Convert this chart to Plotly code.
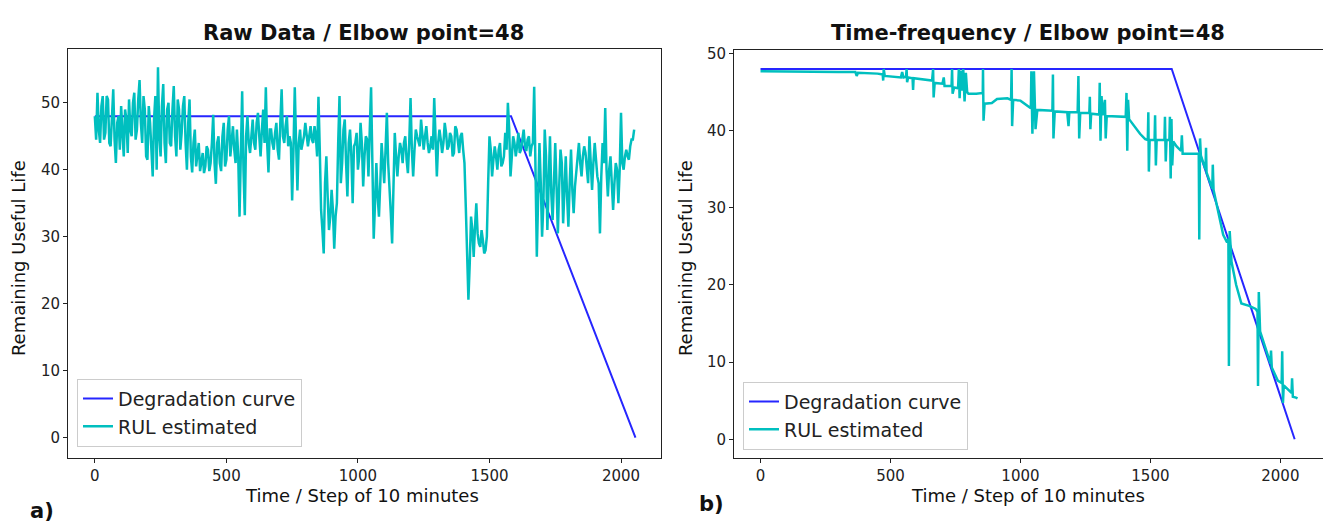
import plotly.graph_objects as go

# ---- data ----
# degradation curve (same for both panels): flat at the elbow value, then linear to zero
deg_t = [0, 1582, 2055]
deg_rul = [48, 48, 0]

# panel a) raw data estimate: values at steps 0,10,...,2050
raw_t_even = list(range(0, 2051, 10))
raw_rul_even = [
    48, 51.5, 44, 51, 45.5, 50.5,
    43.5, 52, 41, 48,
    49.5, 42, 47.5,
    50.5, 45, 51.5, 46, 53.4,
    44, 49, 41.5, 47,
    39, 51, 55.3, 42,
    52.8, 41, 50, 43.5, 52.5, 42, 49, 45.5, 51,
    40, 50.5, 39.6, 46,
    42, 39.8, 42.5, 40.5, 43, 41,
    48.2, 37.9, 45,
    39.8, 47, 41.5, 48, 44.5,
    43, 46,
    33, 51.7, 33.2, 48,
    42.5, 47.5, 43, 48.5, 42, 49,
    52.3, 39.6, 46,
    43, 47, 41.5, 52,
    44, 48, 45,
    35.4, 52.3,
    36.9, 46,
    44, 47, 43.5, 46.5, 44, 45,
    50.9,
    34, 27.5,
    42, 31,
    37, 28.2,
    35, 51, 41,
    47.5, 36, 46, 35, 44,
    40, 47, 37.5, 45, 39,
    52.3,
    29.7, 41,
    33, 44, 38,
    48.5, 36, 29,
    45.5, 39, 44, 41, 45, 39.5,
    50.7, 39, 46,
    44, 47.5, 43, 46.5, 42.5, 45,
    50.7, 39,
    46, 42.5, 47, 43, 45.5, 42, 46.5, 44, 45, 43,
    34.5, 20.6,
    33, 27, 35, 29, 31, 27.5, 30,
    45, 39, 43.5, 40, 44, 41, 45.5,
    50, 39, 45,
    42, 45.5, 43, 46, 42.8, 45, 43.5,
    52.4,
    27, 44, 30, 46,
    31, 45, 32.5, 44, 30.5, 43,
    32, 42, 31.5, 43, 33.5, 40,
    44, 39, 43.5, 40,
    45, 37, 44, 39,
    30.5,
    44, 49.2,
    36, 42, 34, 41, 35,
    48.5,
    40, 43, 41.5, 44.5, 46,
]
# values at steps 5,15,...,2045
raw_t_odd = list(range(5, 2046, 10))
raw_rul_odd = [
    44.5, 46, 49.5, 44.5, 51, 44, 49, 44.5, 47, 43,
    45.5, 49, 42.5, 46, 50, 44.5, 50.5, 47, 51, 42,
    49.5, 43, 47.5, 40, 45, 49.5, 44, 49, 44, 49,
    45, 50.5, 43, 49.5, 44, 47, 42, 44, 40.5, 44,
    41.5, 39.5, 43.5, 39.8, 44, 41, 44, 41, 45, 40.5,
    46, 42, 46.5, 41, 42, 45, 40, 45, 44, 45,
    44, 47, 45, 46, 44, 44, 46, 44, 45.5, 43,
    47, 45, 46.5, 43.5, 44, 43, 44, 44, 43, 45,
    45, 45, 44.5, 46.5, 42, 43, 31, 38, 36, 33,
    34, 33, 44, 38, 46, 41, 44, 42, 43.5, 45.5,
    42, 44, 42, 44.5, 46, 41, 35, 36, 38, 41,
    43, 41, 33.5, 40, 42, 42, 43, 44, 41.5, 44,
    43, 43, 45, 43.5, 44.5, 45, 44, 43.5, 43, 45,
    44, 44.5, 44, 45.5, 43.5, 45, 42.5, 46, 42.5, 45.5,
    41, 28, 26, 31, 31.5, 30.5, 28.5, 29.5, 28, 38,
    43, 41.5, 42, 43, 40.5, 42, 43, 46, 42, 44,
    43.5, 42.5, 44.5, 43.5, 44.5, 42, 44, 40, 36, 38,
    35, 42, 38, 36.5, 38, 37.5, 37.5, 41, 37, 36,
    38, 37, 37.5, 42, 41, 42, 42.5, 38, 40.5, 41,
    41.5, 38, 39, 41, 40, 40, 38, 38, 40, 40,
    41, 42, 42, 43.5, 44.5,
]

# panel b) time-frequency estimate (baseline with spikes)
tf_t = [
    0, 100, 200, 300, 365, 370, 375, 450, 470, 472, 474, 478, 520, 540, 545, 550,
    560, 562, 564, 568, 585, 587, 589, 620, 640, 660, 664, 666, 670, 700, 705, 708,
    735, 737, 739, 745, 760, 763, 766, 770, 775, 780, 785, 790, 795, 800, 830, 855,
    856, 858, 862, 890, 910, 950, 964, 966, 968, 972, 1000, 1025, 1040, 1042, 1046,
    1052, 1058, 1065, 1100, 1123, 1125, 1127, 1132, 1180, 1185, 1188, 1220, 1223,
    1226, 1230, 1265, 1267, 1269, 1272, 1303, 1305, 1308, 1312, 1316, 1325, 1328,
    1332, 1405, 1408, 1411, 1414, 1418, 1440, 1460, 1480, 1490, 1492, 1494, 1497,
    1516, 1518, 1521, 1524, 1554, 1556, 1559, 1562, 1573, 1575, 1578, 1581, 1584,
    1588, 1600, 1618, 1621, 1624, 1680, 1686, 1688, 1691, 1694, 1712, 1714, 1716,
    1738, 1740, 1743, 1766, 1780, 1795, 1800, 1802, 1805, 1812, 1830, 1850, 1880,
    1905, 1912, 1914, 1917, 1922, 1940, 1962, 1964, 1967, 1990, 2005, 2007, 2010,
    2013, 2030, 2043, 2045, 2048, 2060, 2066,
]
tf_rul = [
    47.7, 47.7, 47.65, 47.6, 47.6, 47.1, 47.5, 47.4, 47.3, 46.5, 48.0, 47.1, 47.0, 46.9, 47.6, 46.9,
    47.0, 48.0, 46.3, 46.9, 46.8, 45.3, 46.8, 46.7, 46.6, 46.5, 48.0, 44.3, 46.2, 46.1, 46.9, 45.8,
    45.8, 48.0, 44.8, 45.6, 45.5, 48.0, 44.2, 47.8, 45.2, 48.0, 43.8, 47.5, 45.0, 44.8, 44.8, 44.9,
    48.0, 41.3, 43.5, 43.6, 44.1, 44.2, 44.0, 48.0, 40.6, 44.0, 43.9, 43.2, 42.9, 47.7, 39.6,
    47.7, 40.2, 42.7, 42.6, 42.6, 47.3, 39.0, 42.5, 42.4, 40.6, 42.4, 42.4, 47.1,
    39.0, 42.3, 42.3, 44.4, 40.2, 42.2, 42.1, 46.2, 38.7, 44.5, 42.0, 44.0, 39.0,
    41.9, 41.8, 44.9, 37.4, 44.0, 41.5, 40.5, 39.6, 38.9, 38.8, 42.4, 34.7, 38.8,
    38.8, 42.0, 35.5, 38.8, 38.8, 41.8, 36.0, 38.8, 38.8, 41.8, 33.8, 41.5, 35.5,
    38.6, 38.0, 37.4, 39.4, 37.0, 37.0, 37.0, 25.9, 39.0, 36.8, 35.0, 37.8, 34.6,
    32.5, 35.6, 32.3, 28.7, 26.5, 25.5, 26.0, 9.5, 27.0, 23.0, 20.0, 17.6, 17.3,
    16.9, 16.5, 6.9, 19.1, 14.0, 12.0, 9.8, 11.5, 9.3, 7.6, 7.3, 11.4, 4.7,
    7.0, 6.5, 6.0, 7.9, 5.5, 5.4, 5.3,
]

# merge the two raw sample sets into one time-ordered series
raw_pairs = sorted(zip(raw_t_even + raw_t_odd, raw_rul_even + raw_rul_odd))
raw_t = [p[0] for p in raw_pairs]
raw_rul = [p[1] for p in raw_pairs]

W, H = 1323, 525
BLUE = "rgba(0,0,255,0.85)"
CYAN = "#00bfbf"
FONT = "DejaVu Sans"

fig = go.Figure()

for xa, ya, lg, t, v in [
    ("x", "y", "legend", raw_t, raw_rul),
    ("x2", "y2", "legend2", tf_t, tf_rul),
]:
    fig.add_trace(go.Scatter(x=deg_t, y=deg_rul, mode="lines", name="Degradation curve",
                             line=dict(color=BLUE, width=2), xaxis=xa, yaxis=ya, legend=lg))
    fig.add_trace(go.Scatter(x=t, y=v, mode="lines", name="RUL estimated",
                             line=dict(color=CYAN, width=2.5), xaxis=xa, yaxis=ya, legend=lg))

axis_style = dict(
    showline=True, linecolor="#222", linewidth=1, ticks="outside", ticklen=4,
    tickcolor="#222", showgrid=False, zeroline=False,
    tickfont=dict(family=FONT, size=15, color="#222"),
)
legend_style = dict(xanchor="left", yanchor="top", bgcolor="white", bordercolor="#ccc",
                    borderwidth=1, itemwidth=30, tracegroupgap=0,
                    font=dict(family=FONT, size=19, color="#222"))

fig.update_layout(
    width=W, height=H,
    margin=dict(l=0, r=0, t=0, b=0),
    paper_bgcolor="white", plot_bgcolor="white",
    xaxis=dict(domain=[68 / W, 661 / W], range=[-102, 2152], anchor="y", mirror=True,
               tickvals=[0, 500, 1000, 1500, 2000], **axis_style),
    yaxis=dict(domain=[68 / H, 482 / H], range=[-3.0, 58.1], anchor="x", mirror=True,
               tickvals=[0, 10, 20, 30, 40, 50], **axis_style),
    xaxis2=dict(domain=[734 / W, 1.0], range=[-102, 2164], anchor="y2", mirror=True,
                tickvals=[0, 500, 1000, 1500, 2000], **axis_style),
    yaxis2=dict(domain=[68 / H, 480 / H], range=[-2.4, 50.4], anchor="x2",
                tickvals=[0, 10, 20, 30, 40, 50], **axis_style),
    legend=dict(x=77 / W, y=(H - 377) / H, **legend_style),
    legend2=dict(x=743 / W, y=(H - 380) / H, **legend_style),
)

annots = [
    dict(text="<b>Raw Data / Elbow point=48</b>", x=363, y=27, size=21, angle=0),
    dict(text="<b>Time-frequency / Elbow point=48</b>", x=1028, y=27, size=21, angle=0),
    dict(text="Remaining Useful Life", x=18, y=255, size=18, angle=-90),
    dict(text="Remaining Useful Life", x=685, y=255, size=18, angle=-90),
    dict(text="Time / Step of 10 minutes", x=362, y=495, size=18, angle=0),
    dict(text="Time / Step of 10 minutes", x=1028, y=495, size=18, angle=0),
    dict(text="<b>a)</b>", x=42, y=511, size=21, angle=0),
    dict(text="<b>b)</b>", x=711, y=504, size=21, angle=0),
]
for a in annots:
    fig.add_annotation(text=a["text"], x=a["x"] / W, y=1 - a["y"] / H, xref="paper", yref="paper",
                       xanchor="center", yanchor="middle", showarrow=False, textangle=a["angle"],
                       font=dict(family=FONT, size=a["size"], color="#111"))

# page body has a default 8px margin; remove it so the figure fills the window
fig.write_html("out.html", post_script="document.body.style.margin='0';",
               config={"displayModeBar": False})
